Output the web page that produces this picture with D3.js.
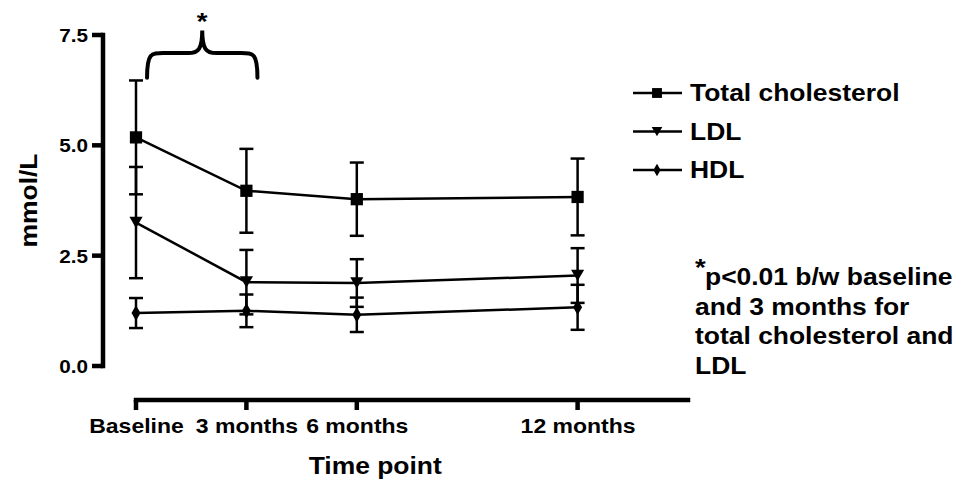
<!DOCTYPE html>
<html>
<head>
<meta charset="utf-8">
<script src="https://cdn.jsdelivr.net/npm/d3@7"></script>
<style>
  body { margin: 0; background: #fff; }
  text { font-family: "Liberation Sans", Arial, sans-serif; font-weight: bold; fill: #000; }
</style>
</head>
<body>
<div id="chart"></div>
<script>
const months = [0, 3, 6, 12]
const timeLabels = ['Baseline', '3 months', '6 months', '12 months']
const yTicks = [0, 2.5, 5, 7.5]

const tcMean = [5.18, 3.97, 3.78, 3.83]
const tcErr = [1.29, 0.95, 0.83, 0.87]
const ldlMean = [3.25, 1.9, 1.88, 2.05]
const ldlErr = [1.26, 0.73, 0.54, 0.62]
const hdlMean = [1.2, 1.25, 1.16, 1.33]
const hdlErr = [0.34, 0.37, 0.39, 0.51]

const seriesNames = ['Total cholesterol', 'LDL', 'HDL']
const noteLines = ['p<0.01 b/w baseline', 'and 3 months for', 'total cholesterol and', 'LDL']

const w = 971
const h = 487
const sx = 1.15 // text in the picture is a bit wider than Arial

const svg = d3.select('#chart').append('svg')
  .attr('width', w)
  .attr('height', h)

const x = d3.scaleLinear().domain([0, 15]).range([136, 688])
const y = d3.scaleLinear().domain([0, 7.5]).range([366, 35])
const yAxisX = 103
const xAxisY = 400
const axW = 4.5

const wideText = (g, tx, ty, str, size, anchor) => g.append('text')
  .attr('transform', 'translate(' + tx + ',' + ty + ') scale(' + sx + ',1)')
  .attr('text-anchor', anchor || 'start')
  .style('font-size', size + 'px')
  .text(str)

// y axis: labels from d3.axisLeft, heavy lines as filled rects
const yAxis = svg.append('g')
  .attr('transform', 'translate(' + yAxisX + ',0)')
  .call(d3.axisLeft(y).tickValues(yTicks).tickSize(10).tickSizeOuter(0).tickFormat(d3.format('.1f')))
yAxis.selectAll('path, line').remove()
yAxis.selectAll('.tick text')
  .attr('x', 0)
  .attr('dy', '0.36em')
  .attr('transform', 'translate(-15,0) scale(' + sx + ',1)')
  .style('font-size', '18px')
  .style('font-family', '"Liberation Sans", Arial, sans-serif')
  .style('font-weight', 'bold')
svg.append('rect')
  .attr('x', yAxisX - axW / 2).attr('width', axW)
  .attr('y', y.range()[1] - axW / 2).attr('height', y.range()[0] - y.range()[1] + axW)
  .attr('fill', '#000')
svg.append('g').selectAll('rect')
  .data(yTicks)
  .enter().append('rect')
  .attr('x', yAxisX - 11).attr('width', 11)
  .attr('y', d => y(d) - axW / 2).attr('height', axW)
  .attr('fill', '#000')

// x axis
const xAxis = svg.append('g')
  .attr('transform', 'translate(0,' + xAxisY + ')')
  .call(d3.axisBottom(x).tickValues(months).tickSize(10).tickSizeOuter(0).tickFormat((d, i) => timeLabels[i]))
xAxis.selectAll('path, line').remove()
xAxis.selectAll('.tick text')
  .attr('y', 0)
  .attr('dy', 0)
  .attr('transform', 'translate(0,33) scale(' + sx + ',1)')
  .style('font-size', '20px')
  .style('font-family', '"Liberation Sans", Arial, sans-serif')
  .style('font-weight', 'bold')
svg.append('rect')
  .attr('x', x.range()[0] - axW / 2).attr('width', x.range()[1] - x.range()[0] + axW)
  .attr('y', xAxisY - axW / 2).attr('height', axW)
  .attr('fill', '#000')
svg.append('g').selectAll('rect')
  .data(months)
  .enter().append('rect')
  .attr('x', d => x(d) - axW / 2).attr('width', axW)
  .attr('y', xAxisY).attr('height', 10)
  .attr('fill', '#000')

wideText(svg, x(6.5), 474, 'Time point', 23, 'middle')
svg.append('text')
  .attr('transform', 'translate(37,' + y(3.75) + ') rotate(-90) scale(' + sx + ',1)')
  .attr('text-anchor', 'middle')
  .style('font-size', '23px')
  .text('mmol/L')

// series
const series = [
  { name: seriesNames[0], mean: tcMean, err: tcErr, sym: d3.symbolSquare, size: 150, rot: 0 },
  { name: seriesNames[1], mean: ldlMean, err: ldlErr, sym: d3.symbolTriangle, size: 75, rot: 180 },
  { name: seriesNames[2], mean: hdlMean, err: hdlErr, sym: d3.symbolDiamond, size: 70, rot: 0 }
]

const line = d3.line()
  .x(d => x(d.t))
  .y(d => y(d.v))

series.forEach(s => {
  const pts = months.map((t, i) => ({ t: t, v: s.mean[i], e: s.err[i] }))
  svg.append('path')
    .datum(pts)
    .attr('d', line)
    .attr('fill', 'none')
    .attr('stroke', '#000')
    .attr('stroke-width', 2.5)

  const bars = svg.append('g').selectAll('g')
    .data(pts)
    .enter().append('g')
    .attr('stroke', '#000')
    .attr('stroke-width', 2.5)
  bars.append('line')
    .attr('x1', d => x(d.t)).attr('x2', d => x(d.t))
    .attr('y1', d => y(d.v - d.e)).attr('y2', d => y(d.v + d.e))
  bars.append('line')
    .attr('x1', d => x(d.t) - 7).attr('x2', d => x(d.t) + 7)
    .attr('y1', d => y(d.v + d.e)).attr('y2', d => y(d.v + d.e))
  bars.append('line')
    .attr('x1', d => x(d.t) - 7).attr('x2', d => x(d.t) + 7)
    .attr('y1', d => y(d.v - d.e)).attr('y2', d => y(d.v - d.e))

  svg.append('g').selectAll('path')
    .data(pts)
    .enter().append('path')
    .attr('d', d3.symbol().type(s.sym).size(s.size))
    .attr('transform', d => 'translate(' + x(d.t) + ',' + (y(d.v) + (s.rot ? -2 : 0)) + ') rotate(' + s.rot + ')')
    .attr('fill', '#000')
})

// legend
const legend = svg.append('g').selectAll('g')
  .data(series)
  .enter().append('g')
  .attr('transform', (d, i) => 'translate(633,' + (93 + i * 38.5) + ')')
legend.append('line')
  .attr('x1', 0).attr('x2', 49)
  .attr('stroke', '#000')
  .attr('stroke-width', 2.5)
legend.append('path')
  .attr('d', d => d3.symbol().type(d.sym).size(d.size * 0.65)())
  .attr('transform', d => 'translate(24,' + (d.rot ? -1.5 : 0) + ') rotate(' + d.rot + ')')
legend.each(function (d) {
  wideText(d3.select(this), 57, 8, d.name, 23)
})

// significance brace between baseline and 3 months
const bx0 = x(0.3)
const bx1 = x(3.3)
const bm = (bx0 + bx1) / 2
const yBot = y(6.53)
const yMid = y(7.09)
const yTip = y(7.6)
const brace = d3.path()
brace.moveTo(bx0, yBot)
brace.bezierCurveTo(bx0, yMid, bx0 + 4, yMid, bx0 + 16, yMid)
brace.lineTo(bm - 14, yMid)
brace.bezierCurveTo(bm - 4, yMid, bm, yMid - 4, bm, yTip)
brace.bezierCurveTo(bm, yMid - 4, bm + 4, yMid, bm + 14, yMid)
brace.lineTo(bx1 - 16, yMid)
brace.bezierCurveTo(bx1 - 4, yMid, bx1, yMid, bx1, yBot)
svg.append('path')
  .attr('d', brace.toString())
  .attr('fill', 'none')
  .attr('stroke', '#000')
  .attr('stroke-width', 4)
  .attr('stroke-linecap', 'round')
wideText(svg, bm, 30, '*', 24, 'middle')

// note
const note = svg.append('g').attr('transform', 'translate(695,0)')
wideText(note, 0, 276, '*', 24)
noteLines.forEach((t, i) => {
  wideText(note, i === 0 ? 10 : 0, 285 + i * 29.5, t, 23)
})
</script>
</body>
</html>
